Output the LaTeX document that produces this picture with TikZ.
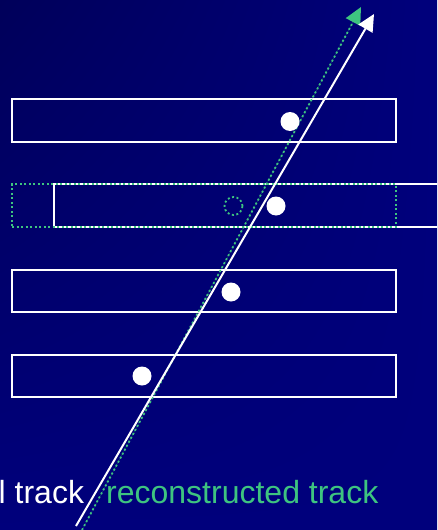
\documentclass[tikz,border=0pt]{standalone}
\usepackage{fontspec}
\setmainfont{Liberation Sans}
\usetikzlibrary{arrows.meta, shadings}
\definecolor{bgblue}{RGB}{0,0,124}
\definecolor{bgdark}{RGB}{0,0,90}
\definecolor{recogreen}{RGB}{62,196,128}

\tikzset{
  layer/.style={draw=white, line width=2pt, minimum width=384pt, minimum height=42.5pt, inner sep=0pt},
  ghost/.style={draw=recogreen, line width=1.8pt, dash pattern=on 2pt off 2.5pt},
  hit/.style={circle, fill=white, minimum size=19pt, inner sep=0pt},
}

\begin{document}
\begin{tikzpicture}[x=1pt, y=-1pt, >={Triangle[length=17pt, width=16pt]},
    every node/.style={font=\fontsize{32}{38}\selectfont}]
        \shade[upper left=bgdark, upper right=bgblue, lower left=bgblue, lower right=bgblue] (0,0) rectangle (437,530);
        \useasboundingbox (0,0) rectangle (437,530);
        \clip (0,0) rectangle (437,530);

        % detector layers
        \node[layer] (L1) at (204,120.5) {};
        \node[layer] (L2) at (246,205.5) {};
        \node[layer, ghost] (L2old) at (204,205.5) {};
        \node[layer] (L3) at (204,291) {};
        \node[layer] (L4) at (204,376) {};

        % tracks
        \coordinate (rbot) at (82,530);
        \coordinate (rtop) at (361,7);
        \coordinate (tbot) at (76,526);
        \coordinate (ttop) at (374,14);
        \draw[->, ghost, solid, dash pattern=on 2pt off 2.5pt, fill=recogreen] (rbot) -- (rtop);
        \draw[->, white, line width=2pt] (tbot) -- (ttop);

        % hits
        \node[hit] (h1) at (290,121.5) {};
        \node[hit] (h2) at (276,206) {};
        \node[hit] (h3) at (231,292) {};
        \node[hit] (h4) at (142,376) {};
        \node[circle, ghost, minimum size=18pt, inner sep=0pt] (h2old) at (233.5,206) {};

        \node[white, anchor=base west, inner sep=0pt] (true) at (-1.5,503) {l track};
        \node[recogreen, anchor=base west, inner sep=0pt] (reco) at (106,503) {reconstructed track};
    \end{tikzpicture}
\end{document}
